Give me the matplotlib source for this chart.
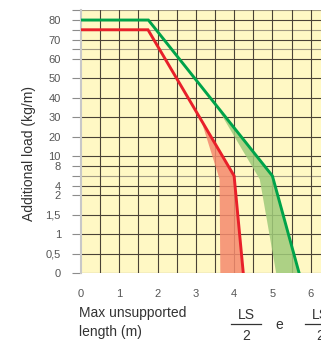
import numpy as np
import matplotlib
matplotlib.use("Agg")
import matplotlib.pyplot as plt
from matplotlib.lines import Line2D

plt.rcParams['font.family'] = ['Liberation Sans', 'DejaVu Sans']

# broken y scale: value breakpoints and their slot positions
scale_vals = [0, 2, 10, 85]
scale_pos = [0, 4, 6, 13.5]

# tick values and labels
y_ticks = [0, 0.5, 1, 1.5, 2, 4, 6, 8, 10, 20, 30, 40, 50, 60, 65, 70, 75, 80, 85]
y_labels = ['0', '0,5', '1', '1,5', '2', '4', '', '8', '10', '20', '30', '40',
            '50', '60', '', '70', '', '80', '']
y_light = [6, 65, 75, 85]
x_ticks = [0, 1, 2, 3, 4, 5, 6]

# load curves (m, kg/m)
red_x = [0, 1.75, 4.0, 4.24]
red_y = [75, 75, 6, 0]
green_x = [0, 1.76, 5.0, 5.7]
green_y = [80, 80, 6, 0]

# tolerance bands
red_band_x = [3.1, 3.62, 3.64, 4.24, 4.0]
red_band_y = [31, 5.3, 0, 0, 6]
green_band_x = [3.62, 4.67, 5.1, 5.7, 5.0]
green_band_y = [33, 5.3, 0, 0, 6]


def fwd(v):
    return np.interp(v, scale_vals, scale_pos)


def inv(u):
    return np.interp(u, scale_pos, scale_vals)


fig = plt.figure(figsize=(3.21, 3.42), dpi=100)
ax = fig.add_axes([0.2523, 0.2009, 0.7477, 0.769])
ax.set_yscale('function', functions=(fwd, inv))
ax.set_facecolor('#fff8c4')

ax.fill(red_band_x, red_band_y, color='#f58a6e', alpha=0.85, lw=0, zorder=2)
ax.fill(green_band_x, green_band_y, color='#9fcb7a', alpha=0.85, lw=0, zorder=2)

# grid
for v in y_ticks:
    c = '#a09880' if v in y_light else '#4a4236'
    ax.axhline(v, color=c, lw=0.8, zorder=1)
for xv in np.arange(0.5, 6.5, 0.5):
    ax.axvline(xv, color='#4a4236', lw=0.8, zorder=1)

ax.plot(red_x, red_y, color='#e8202a', lw=2.1, zorder=4, solid_joinstyle='miter')
ax.plot(green_x, green_y, color='#00a34a', lw=2.1, zorder=4, solid_joinstyle='miter')

ax.set_xlim(0, 6.27)
ax.set_ylim(0, 85)
ax.set_yticks(y_ticks)
ax.set_yticklabels(y_labels)
ax.set_xticks(x_ticks)
ax.set_xticklabels([str(t) for t in x_ticks])
ax.tick_params(axis='y', length=6.5, width=0.8, color='#8c8c8c', pad=8,
               labelsize=8, labelcolor='#555555')
ax.tick_params(axis='x', length=0, pad=11, labelsize=8, labelcolor='#555555')

for s in ['top', 'right', 'bottom']:
    ax.spines[s].set_visible(False)
ax.spines['left'].set_color('#c8c8c8')
ax.spines['left'].set_linewidth(1.5)

fig.text(0.09, 0.55, 'Additional load (kg/m)', rotation=90, ha='center', va='center',
         fontsize=10, color='#333333')
fig.text(0.246, 0.085, 'Max unsupported', ha='left', va='center', fontsize=10, color='#333333')
fig.text(0.246, 0.03, 'length (m)', ha='left', va='center', fontsize=10, color='#333333')

# LS/2 e LS/2
for xc in [246 / 321, 320 / 321]:
    fig.text(xc, 1 - 315 / 342, 'LS', ha='center', va='center', fontsize=10, color='#333333')
    fig.text(xc, 1 - 336 / 342, '2', ha='center', va='center', fontsize=10, color='#333333')
    fig.add_artist(Line2D([xc - 15 / 321, xc + 15 / 321], [1 - 324 / 342] * 2,
                          transform=fig.transFigure, color='#333333', lw=0.9))
fig.text(279 / 321, 1 - 325 / 342, 'e', ha='center', va='center', fontsize=10, color='#333333')

fig.savefig('out.png', dpi=100, facecolor='white')
